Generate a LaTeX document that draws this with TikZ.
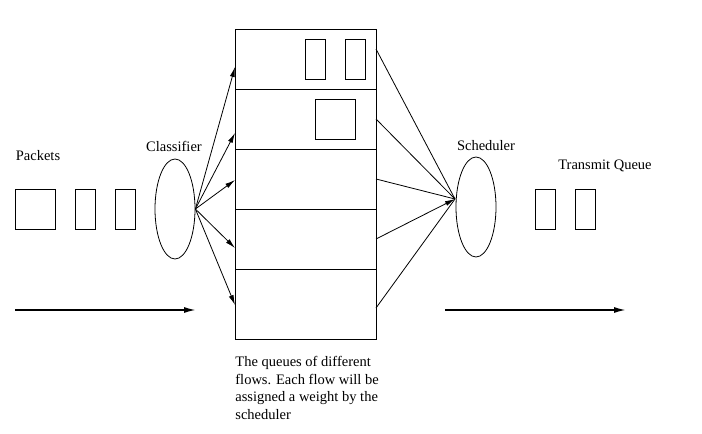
\documentclass[tikz,border=0pt]{standalone}
\usepackage{fontspec}
\setmainfont{Liberation Serif}
\usetikzlibrary{positioning,arrows.meta,shapes.geometric}

\begin{document}
\begin{tikzpicture}[x=1pt,y=-1pt,line width=0.8pt,
          pkt/.style={rectangle, draw, minimum width=20pt, minimum height=40pt, inner sep=0pt},
          bigpkt/.style={pkt, minimum width=40pt},
          row/.style={rectangle, draw, minimum width=141pt, minimum height=60pt, inner sep=0pt},
          oval/.style={ellipse, draw, minimum width=40pt, minimum height=100pt, inner sep=0pt},
          lbl/.style={font=\fontsize{14.5}{17}\selectfont, inner sep=0pt},
          arr/.style={-{Latex[length=10pt,width=5pt]}},
          flow/.style={-{Latex[length=12pt,width=6pt]}, line width=1.6pt},
          every node/.style={align=center}]
        \useasboundingbox (0,0) rectangle (702,434);
        % incoming packets
        \node[lbl] (packets) at (38,156) {Packets};
        \node[bigpkt] (p1) at (35,209) {};
        \node[pkt] (p2) at (85,209) {};
        \node[pkt] (p3) at (125,209) {};
        \node[oval] (cls) at (175,209) {};
        \node[lbl] (clslbl) at (174,146) {Classifier};
        % per-flow queues
        \node[row] (q1) at (305.5,59) {};
        \node[row] (q2) at (305.5,119) {};
        \node[row] (q3) at (305.5,179) {};
        \node[row] (q4) at (305.5,239) {};
        \node[row, minimum height=70pt] (q5) at (305.5,304) {};
        \node[pkt] (f1a) at (315,59) {};
        \node[pkt] (f1b) at (355,59) {};
        \node[bigpkt] (f2) at (335,119) {};
        \coordinate (in1) at (235,67);
        \coordinate (in2) at (235,133);
        \coordinate (in3) at (235,180);
        \coordinate (in4) at (235,248);
        \coordinate (in5) at (235,305);
        \draw[arr] (cls.east) -- (in1);
        \draw[arr] (cls.east) -- (in2);
        \draw[arr] (cls.east) -- (in3);
        \draw[arr] (cls.east) -- (in4);
        \draw[arr] (cls.east) -- (in5);
        % scheduler side
        \node[oval] (sch) at (476,207) {};
        \node[lbl] (schlbl) at (486,146) {Scheduler};
        \coordinate (hit) at (455,199);
        \coordinate (out1) at (376,49);
        \coordinate (out2) at (376,119);
        \coordinate (out3) at (376,179);
        \coordinate (out4) at (376,239);
        \coordinate (out5) at (376,308);
        \draw (out1) -- (hit);
        \draw (out2) -- (hit);
        \draw (out3) -- (hit);
        \draw[arr] (out4) -- (hit);
        \draw (out5) -- (hit);
        \node[lbl] (txlbl) at (605,166) {Transmit Queue};
        \node[pkt] (t1) at (545,209) {};
        \node[pkt] (t2) at (585,209) {};
        % flow direction
        \coordinate (ls) at (15,310);
        \coordinate (le) at (196,310);
        \coordinate (rs) at (445,310);
        \coordinate (re) at (626,310);
        \draw[flow] (ls) -- (le);
        \draw[flow] (rs) -- (re);
        \node[lbl, font=\fontsize{14.5}{17.6}\selectfont, align=left, anchor=north west] (note) at (235,356)
          {The queues of different\\flows. Each flow will be\\assigned a weight by the\\scheduler};
      \end{tikzpicture}
\end{document}
